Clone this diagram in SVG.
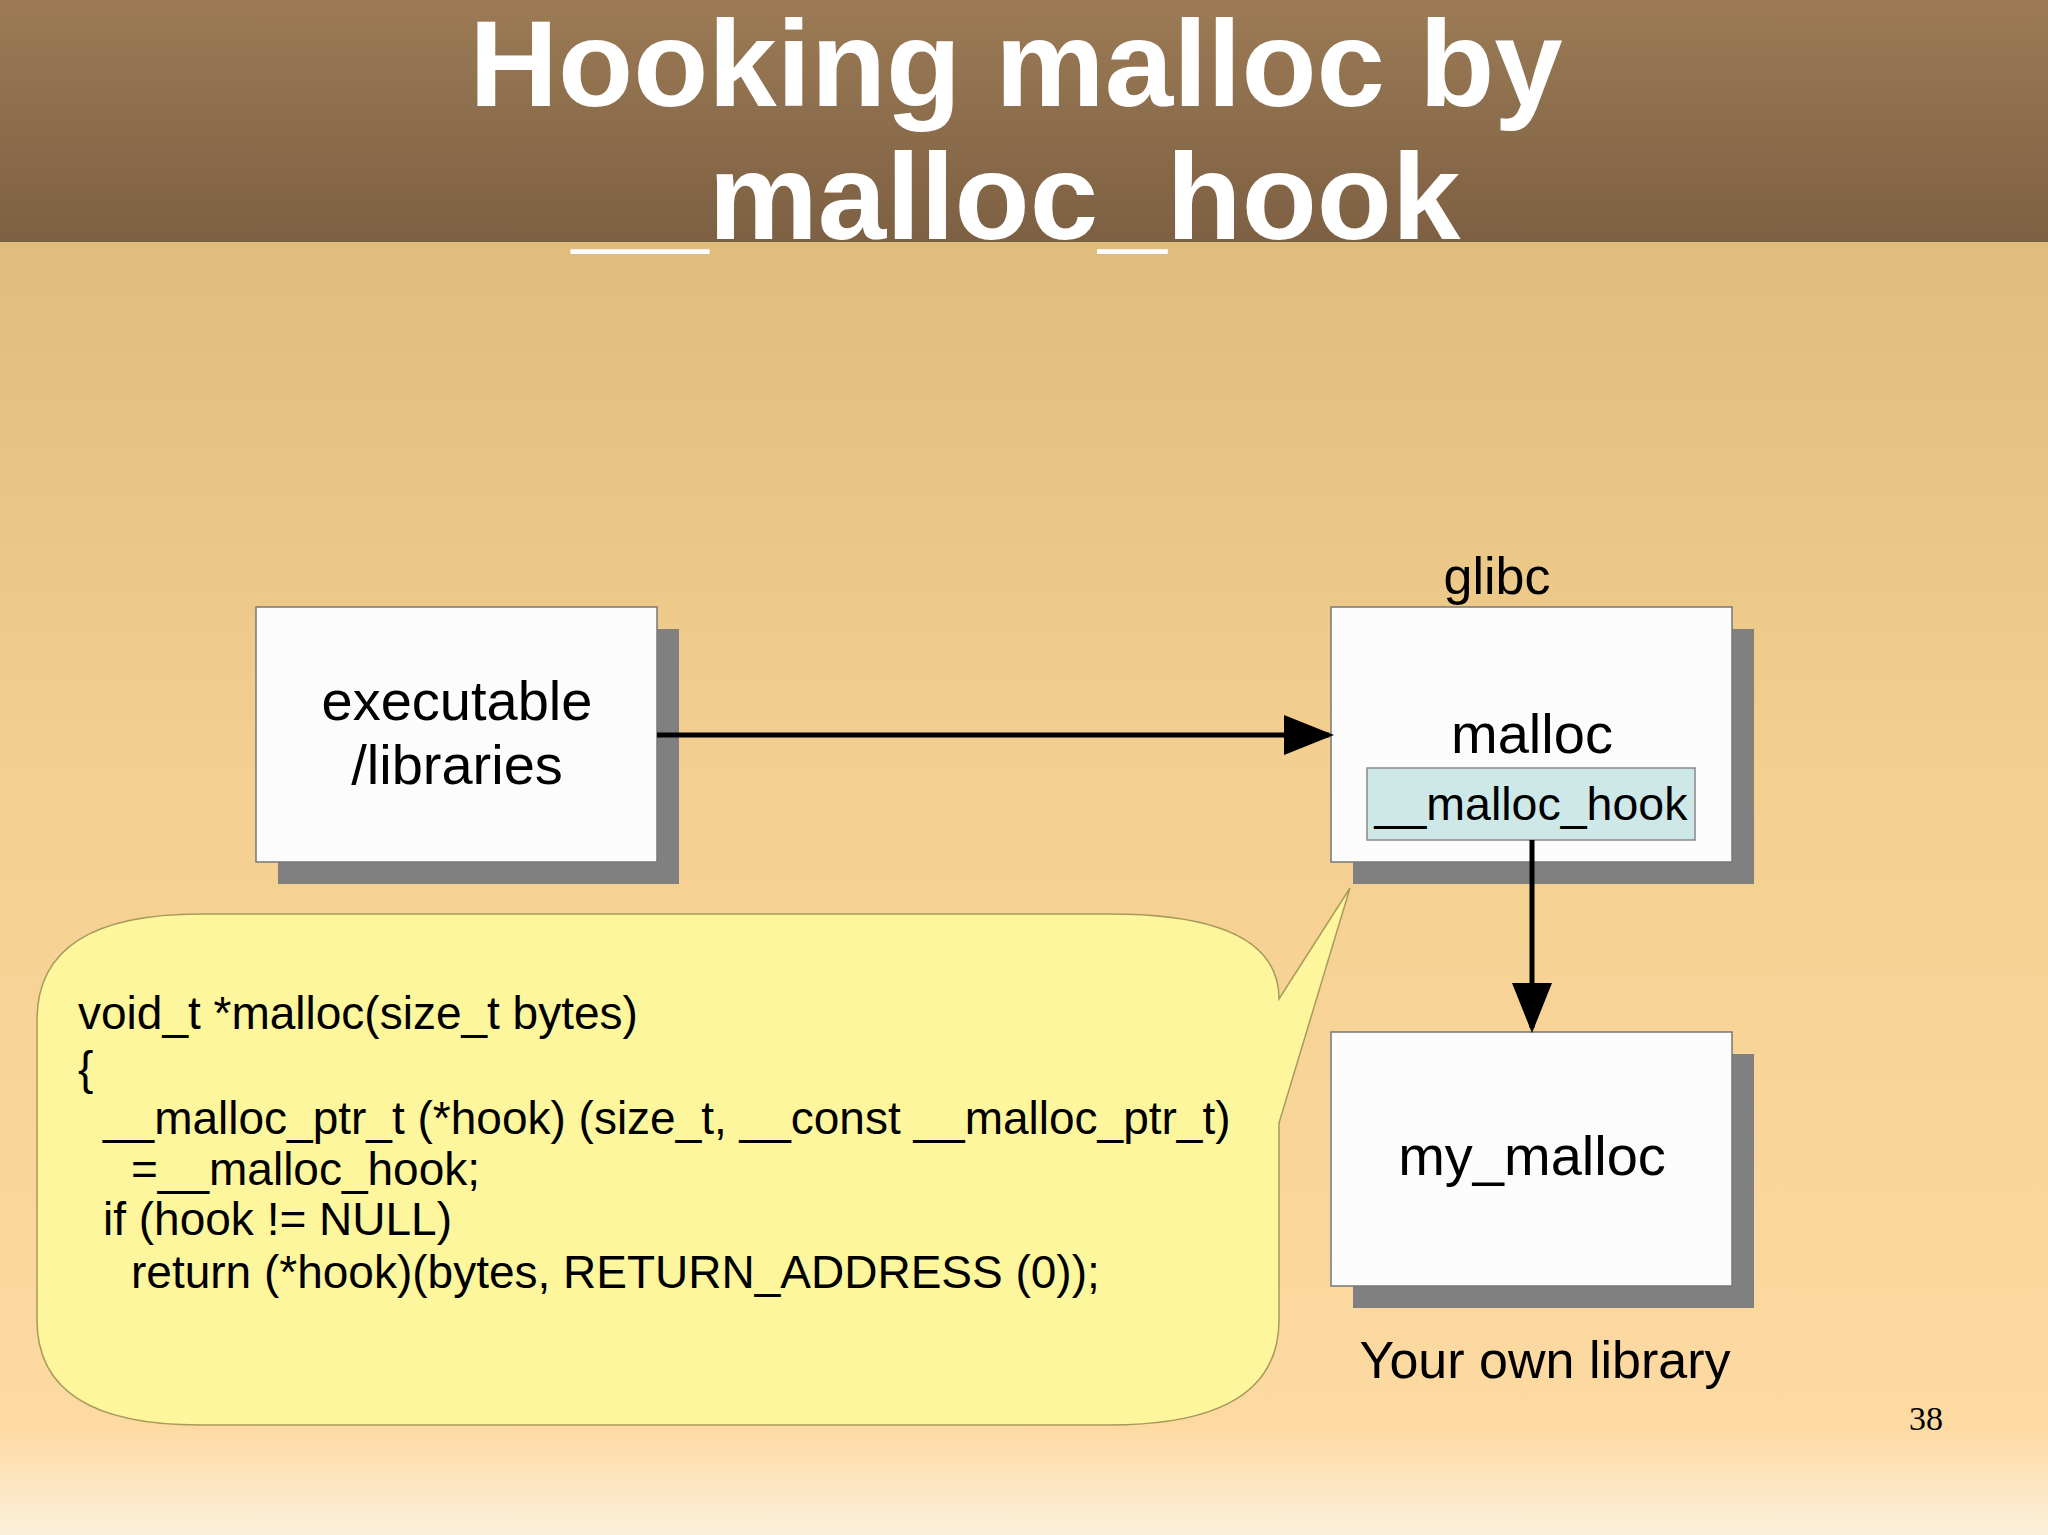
<svg xmlns="http://www.w3.org/2000/svg" width="2048" height="1535" viewBox="0 0 2048 1535">
<defs>
<linearGradient id="bg" x1="0" y1="0" x2="0" y2="1">
<stop offset="0" stop-color="#d6b472"/><stop offset="0.5" stop-color="#f3cf90"/><stop offset="0.93" stop-color="#fddaa2"/><stop offset="1" stop-color="#fcf0dc"/>
</linearGradient>
<linearGradient id="hd" x1="0" y1="0" x2="0" y2="1">
<stop offset="0" stop-color="#9c7b55"/><stop offset="1" stop-color="#7d6043"/>
</linearGradient>
<marker id="ah" markerWidth="10" markerHeight="8" refX="9" refY="4" orient="auto" markerUnits="strokeWidth"><path d="M0,0 L10,4 L0,8 Z" fill="#000"/></marker>
<style>
.box{fill:#fbfcfb;stroke:#777;stroke-width:1.5}
.sh{fill:#808080}
.t{font-family:"Liberation Sans",Arial,sans-serif;fill:#000}
.ln{stroke:#000;stroke-width:5;fill:none}
</style>
</defs>
<rect width="2048" height="1535" fill="url(#bg)"/>
<rect width="2048" height="242" fill="url(#hd)"/>
<g id="title" font-family="Liberation Sans,Arial,sans-serif" font-weight="bold" font-size="123" fill="#fff" text-anchor="middle">
<text x="1016" y="106">Hooking malloc by</text>
<text x="1016" y="239">__malloc_hook</text>
</g>
<g id="exec">
<rect class="sh" x="278" y="629" width="401" height="255"/>
<rect class="box" x="256" y="607" width="401" height="255"/>
<text class="t" x="457" y="720" font-size="56" text-anchor="middle">executable</text>
<text class="t" x="457" y="784" font-size="56" text-anchor="middle">/libraries</text>
</g>
<g id="glibc">
<rect class="sh" x="1353" y="629" width="401" height="255"/>
<rect class="box" x="1331" y="607" width="401" height="255"/>
<text class="t" x="1497" y="594" font-size="52" text-anchor="middle">glibc</text>
<text class="t" x="1532" y="753" font-size="56" text-anchor="middle">malloc</text>
<rect x="1367" y="768" width="328" height="72" fill="#cde8e6" stroke="#888" stroke-width="1.5"/>
<text class="t" x="1531" y="820" font-size="46.5" text-anchor="middle">__malloc_hook</text>
</g>
<g id="mymalloc">
<rect class="sh" x="1353" y="1054" width="401" height="254"/>
<rect class="box" x="1331" y="1032" width="401" height="254"/>
<text class="t" x="1532" y="1175" font-size="56" text-anchor="middle">my_malloc</text>
<text class="t" x="1545" y="1378" font-size="52" text-anchor="middle">Your own library</text>
</g>
<g id="connectors">
<line class="ln" x1="657" y1="735" x2="1329" y2="735" marker-end="url(#ah)"/>
<line class="ln" x1="1532" y1="840" x2="1532" y2="1028" marker-end="url(#ah)"/>
</g>
<g id="callout">
<path d="M200,914 H1110 Q1279,914 1279,999 L1350,888 L1279,1123 V1320 Q1279,1425 1110,1425 H200 Q37,1425 37,1320 V1020 Q37,914 200,914 Z" fill="#fdf69c" stroke="#a89a5a" stroke-width="1.5"/>
<g class="t" font-size="46">
<text x="78" y="1029">void_t *malloc(size_t bytes)</text>
<text x="78" y="1084">{</text>
<text x="103" y="1134">__malloc_ptr_t (*hook) (size_t, __const __malloc_ptr_t)</text>
<text x="131" y="1185">=__malloc_hook;</text>
<text x="103" y="1235">if (hook != NULL)</text>
<text x="131" y="1288">return (*hook)(bytes, RETURN_ADDRESS (0));</text>
</g>
</g>
<text x="1926" y="1430" font-family="Liberation Serif,serif" font-size="34" text-anchor="middle" fill="#000">38</text>
</svg>
